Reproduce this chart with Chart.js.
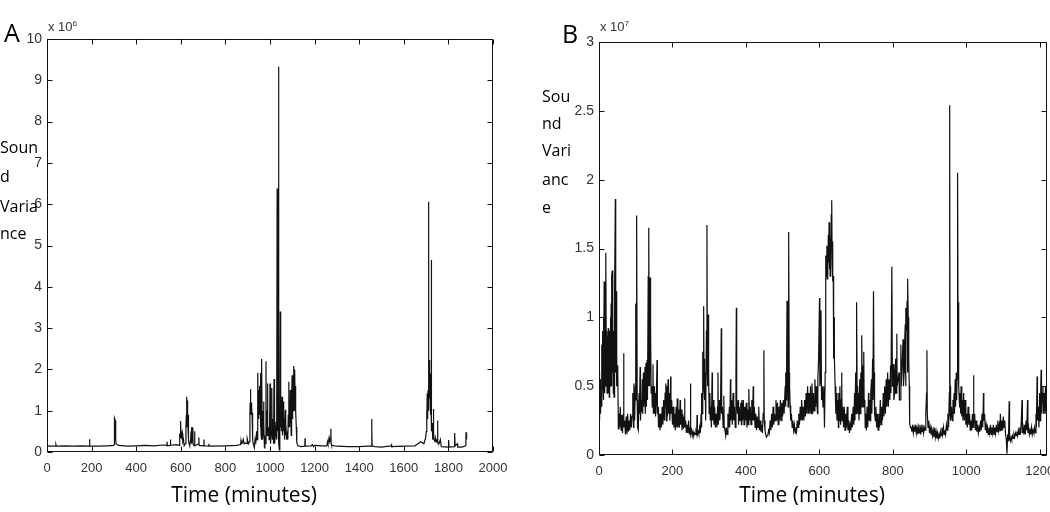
<!DOCTYPE html>
<html>
<head>
<meta charset="utf-8">
<script src="https://cdn.jsdelivr.net/npm/chart.js@4.4.1/dist/chart.umd.min.js"></script>
<style>
  html, body { margin: 0; padding: 0; background: #fff; overflow: hidden; }
  body { width: 1050px; height: 512px; position: relative; }
  canvas { position: absolute; top: 0; }
  #chartA { left: 0; }
  #chartB { left: 525px; }
  .txt { position: absolute; font-family: 'Open Sans', sans-serif; color: #000; white-space: nowrap; line-height: 1; }
  .panel { font-size: 25px; }
  .mult { font-family: 'Liberation Sans', sans-serif; font-size: 13px; color: #333; }
  .mult sup { font-size: 8px; }
  .ylab { font-size: 16px; }
  .xlab { font-size: 21px; transform: translateX(-50%); }
</style>
</head>
<body>
<canvas id="chartA" width="525" height="512"></canvas>
<canvas id="chartB" width="560" height="512"></canvas>

<div class="txt panel" style="left:4px; top:20px;">A</div>
<div class="txt mult" style="left:48px; top:20px;">x 10<sup>6</sup></div>
<div class="txt ylab" style="left:0px; top:139px;">Soun</div>
<div class="txt ylab" style="left:0px; top:168px;">d</div>
<div class="txt ylab" style="left:0px; top:198px;">Varia</div>
<div class="txt ylab" style="left:0px; top:225px;">nce</div>
<div class="txt xlab" style="left:244px; top:484px;">Time (minutes)</div>

<div class="txt panel" style="left:562px; top:21px;">B</div>
<div class="txt mult" style="left:600px; top:20px;">x 10<sup>7</sup></div>
<div class="txt ylab" style="left:542px; top:88px;">Sou</div>
<div class="txt ylab" style="left:542px; top:115px;">nd</div>
<div class="txt ylab" style="left:542px; top:142px;">Vari</div>
<div class="txt ylab" style="left:542px; top:171px;">anc</div>
<div class="txt ylab" style="left:542px; top:199px;">e</div>
<div class="txt xlab" style="left:812px; top:484px;">Time (minutes)</div>

<script>
// Panel A: [minute, sound variance in units of 10^6]
const seriesA = [
  [0,0.15],[20,0.14],[38,0.14],[40,0.18],[42,0.14],[80,0.15],[120,0.14],[150,0.15],[189,0.14],[191,0.31],
  [192,0.15],[230,0.14],[270,0.15],[298,0.16],[301,0.18],[302,0.25],[303,0.82],[307,0.75],[308,0.3],[310,0.2],
  [320,0.16],[360,0.14],[400,0.15],[440,0.16],[480,0.15],[520,0.17],[537,0.16],[538,0.25],[540,0.15],[552,0.16],
  [553,0.3],[555,0.16],[580,0.18],[594,0.16],[595,0.45],[597,0.35],[599,0.75],[601,0.4],[603,0.5],[605,0.35],
  [607,0.45],[609,0.25],[612,0.3],[615,0.15],[620,0.2],[623,0.6],[625,0.9],[626,0.6],[627,1.34],[628,0.9],
  [629,1.25],[630,0.8],[631,1.2],[632,0.9],[633,0.5],[634,0.9],[635,0.3],[637,0.2],[640,0.15],[644,0.3],
  [646,0.5],[647,0.2],[650,0.6],[651,0.25],[654,0.6],[655,0.2],[660,0.15],[662,0.5],[663,0.15],[680,0.2],
  [681,0.35],[682,0.16],[703,0.15],[704,0.3],[705,0.15],[725,0.14],[726,0.2],[727,0.14],[800,0.15],[850,0.16],
  [868,0.18],[870,0.28],[872,0.2],[876,0.22],[880,0.3],[884,0.2],[890,0.22],[897,0.2],[898,0.32],[903,0.2],
  [908,0.25],[910,0.9],[911,1.2],[912,0.9],[913,1.52],[914,1.1],[915,1.2],[916,0.95],[917,1.15],[918,0.9],
  [919,1.1],[920,0.85],[921,0.95],[923,0.3],[925,0.2],[930,0.1],[933,0.3],[936,0.2],[940,0.5],[942,0.3],
  [944,1.3],[945,0.8],[946,1.92],[947,0.9],[948,1.3],[949,0.8],[950,1.5],[951,1.0],[952,1.4],[953,1.1],
  [954,1.6],[955,0.9],[956,1.3],[957,1.91],[958,0.6],[959,1.0],[960,0.4],[961,0.9],[962,0.3],[964,2.25],
  [965,0.5],[966,1.0],[967,0.3],[969,0.5],[971,1.22],[972,0.4],[973,0.7],[975,0.1],[977,0.4],[980,0.2],
  [982,2.2],[983,0.5],[984,1.0],[985,0.5],[986,0.9],[987,0.4],[988,1.66],[989,0.5],[990,0.9],[991,0.4],
  [993,0.6],[996,0.3],[998,0.5],[1000,1.66],[1001,0.6],[1002,1.0],[1004,0.2],[1006,0.5],[1008,1.55],[1009,0.6],
  [1010,0.8],[1012,0.3],[1014,0.5],[1016,0.2],[1018,1.77],[1019,0.5],[1020,0.8],[1022,0.2],[1024,0.4],[1027,0.73],
  [1029,0.3],[1031,0.5],[1032,6.38],[1033,0.8],[1034,6.3],[1035,0.5],[1036,1.0],[1038,9.33],[1039,0.9],[1040,0.2],
  [1042,0.05],[1044,0.3],[1046,3.4],[1047,0.8],[1048,1.2],[1049,0.6],[1050,1.1],[1051,0.5],[1052,0.9],[1054,1.34],
  [1055,0.5],[1056,0.9],[1058,0.4],[1059,0.8],[1061,1.22],[1062,0.5],[1063,0.8],[1065,0.3],[1067,0.6],[1069,1.02],
  [1070,0.4],[1071,0.7],[1073,0.5],[1075,0.3],[1078,0.4],[1080,0.3],[1082,0.9],[1084,1.7],[1085,0.6],[1086,1.2],
  [1087,0.7],[1088,1.0],[1089,0.6],[1091,1.5],[1092,0.7],[1093,1.1],[1095,0.4],[1097,1.2],[1099,1.86],[1100,0.9],
  [1101,1.5],[1102,0.8],[1103,1.3],[1104,1.0],[1106,2.08],[1107,1.2],[1108,1.8],[1109,1.5],[1110,1.9],[1111,1.0],
  [1112,2.0],[1113,1.2],[1114,1.6],[1116,1.0],[1118,0.6],[1120,0.23],[1125,0.15],[1140,0.13],[1156,0.14],[1157,0.33],
  [1158,0.14],[1185,0.15],[1190,0.18],[1195,0.13],[1200,0.16],[1230,0.15],[1255,0.15],[1258,0.25],[1260,0.2],[1265,0.35],
  [1268,0.25],[1272,0.3],[1273,0.56],[1274,0.2],[1276,0.16],[1300,0.14],[1350,0.13],[1400,0.13],[1440,0.14],[1455,0.14],
  [1456,0.8],[1457,0.5],[1458,0.15],[1470,0.13],[1500,0.12],[1530,0.14],[1544,0.14],[1545,0.2],[1546,0.13],[1600,0.14],
  [1650,0.15],[1676,0.25],[1690,0.2],[1698,0.35],[1701,0.5],[1702,0.6],[1703,1.0],[1704,0.7],[1705,1.42],[1706,0.8],
  [1707,1.3],[1708,0.9],[1709,1.5],[1710,6.06],[1711,1.2],[1712,2.0],[1713,1.0],[1714,2.1],[1715,1.3],[1716,2.23],
  [1717,1.4],[1718,1.9],[1719,1.2],[1720,1.62],[1721,0.9],[1722,1.3],[1723,4.65],[1724,0.8],[1725,0.5],[1727,0.7],
  [1730,0.3],[1732,0.5],[1733,1.04],[1734,0.4],[1736,0.3],[1740,0.25],[1742,0.34],[1746,0.25],[1750,0.3],[1751,0.76],
  [1753,0.25],[1758,0.2],[1764,0.3],[1768,0.13],[1800,0.12],[1801,0.29],[1803,0.12],[1827,0.13],[1828,0.46],[1830,0.15],
  [1840,0.2],[1842,0.12],[1860,0.12],[1878,0.15],[1879,0.48],[1881,0.35],[1882,0.3]
];

// Panel B: [minute, sound variance in units of 10^7]
const seriesB = [
  [0,0.37],[1,0.6],[2,0.25],[3,0.55],[4,0.3],[6,0.45],[7,0.8],[8,0.35],[10,0.9],[11,0.5],
  [12,1.0],[13,0.4],[14,1.26],[15,0.45],[16,1.2],[17,0.5],[18,0.8],[19,1.47],[20,0.6],[21,0.9],
  [22,0.45],[23,0.86],[24,0.5],[25,0.92],[26,0.45],[27,0.8],[28,0.42],[29,0.9],[30,0.5],[31,1.0],
  [32,0.6],[33,1.1],[34,0.5],[35,1.3],[36,1.34],[37,0.6],[38,1.0],[39,0.45],[40,0.9],[41,0.42],
  [42,1.05],[43,1.2],[44.5,1.86],[45.5,0.6],[46.5,1.1],[47.5,0.5],[48,1.19],[49,0.7],[50,0.5],[51,0.65],
  [52.7,0.19],[54,0.3],[56,0.2],[58,0.35],[60,0.18],[62,0.29],[64,0.16],[66,0.3],[67,0.74],[68,0.2],
  [70,0.25],[72,0.15],[74,0.28],[76,0.15],[78,0.3],[80,0.17],[82,0.25],[84,0.18],[86,0.3],[88,0.2],
  [90,0.28],[92,0.45],[94,0.2],[95,0.52],[97,0.25],[99,0.5],[100,1.1],[101,0.4],[102.5,1.74],[104,0.4],
  [105,0.2],[107,0.18],[109,0.45],[110,0.3],[112,0.64],[113,0.25],[115,0.4],[116,0.31],[118,0.55],[119,0.3],
  [121,0.6],[122,0.35],[124,0.5],[125,0.64],[126,0.3],[128,0.67],[129,0.35],[131,0.69],[132,0.4],[134,1.3],
  [135,0.5],[136,1.65],[137,0.6],[138,0.5],[139,1.29],[140,0.6],[141,0.9],[142,0.45],[144,0.5],[145,0.35],
  [147,0.66],[148,0.3],[150,0.5],[151,0.3],[153,0.45],[154,0.28],[156,0.4],[158,0.69],[159,0.3],[161,0.35],
  [162,0.2],[164,0.3],[166,0.18],[168,0.3],[170,0.2],[172,0.35],[174,0.22],[176,0.4],[178,0.25],[180,0.45],
  [182,0.52],[183,0.25],[185,0.5],[186,0.28],[188,0.55],[189,0.3],[191,0.45],[193,0.25],[195,0.57],[196,0.3],
  [198,0.4],[200,0.22],[202,0.35],[204,0.2],[206,0.3],[208,0.18],[210,0.35],[212,0.2],[213,0.41],[215,0.2],
  [217,0.33],[219,0.2],[221,0.4],[222,0.22],[224,0.33],[226,0.18],[228,0.3],[230,0.19],[232,0.28],[233,0.41],
  [234,0.2],[236,0.25],[238,0.16],[240,0.22],[242,0.16],[244,0.25],[246,0.15],[248,0.2],[249,0.52],[250,0.15],
  [252,0.18],[254,0.14],[256,0.17],[258,0.14],[260,0.16],[262,0.15],[264,0.17],[266,0.15],[267,0.29],[268,0.15],
  [270,0.17],[272,0.15],[274,0.2],[276,0.16],[278,0.3],[279,0.2],[280,0.45],[281,0.3],[282,0.75],[283,0.4],
  [284,0.6],[285,1.08],[286,0.5],[287,0.7],[288,0.4],[289,0.6],[290,0.3],[291,0.25],[292.5,0.9],[294,1.67],
  [295,0.6],[296,0.5],[297,1.02],[298,0.5],[299,0.6],[300,0.3],[302,0.45],[303,0.25],[305,0.35],[306,0.2],
  [308,0.6],[309,0.25],[311,0.4],[313,0.22],[315,0.35],[317,0.2],[319,0.3],[321,0.2],[323,0.35],[324,0.6],
  [325,0.22],[327,0.4],[329,0.25],[331,0.35],[333,0.92],[334,0.3],[336,0.35],[338,0.2],[340,0.43],[341,0.2],
  [343,0.18],[345,0.14],[347,0.2],[349,0.15],[351,0.3],[353,0.2],[355,0.35],[356,0.2],[358,0.55],[359,0.25],
  [361,0.4],[363,0.22],[365,0.45],[367,0.25],[369,0.35],[371,0.2],[373,0.6],[374,1.07],[375,0.4],[377,0.3],
  [379,0.4],[380,0.22],[382,0.35],[384,0.25],[386,0.38],[388,0.22],[389,0.4],[391,0.25],[393,0.4],[395,0.22],
  [397,0.35],[399,0.25],[401,0.38],[403,0.2],[405,0.33],[407,0.22],[408,0.48],[410,0.25],[412,0.35],[414,0.22],
  [416,0.4],[418,0.25],[420,0.5],[421,0.25],[423,0.35],[425,0.2],[427,0.3],[429,0.18],[431,0.28],[433,0.2],
  [435,0.35],[437,0.18],[439,0.25],[441,0.17],[443,0.22],[445,0.16],[447,0.3],[449,0.76],[450,0.25],[452,0.18],
  [454,0.15],[456,0.13],[458,0.14],[460,0.15],[462,0.18],[464,0.16],[466,0.25],[468,0.18],[470,0.3],[472,0.2],
  [474,0.35],[476,0.22],[478,0.3],[480,0.25],[482,0.4],[484,0.25],[486,0.38],[488,0.22],[490,0.35],[492,0.25],
  [494,0.4],[496,0.25],[498,0.38],[500,0.28],[502,0.4],[504,0.3],[507,0.5],[508,0.35],[509,0.6],[510,0.4],
  [511,0.7],[512,1.12],[513,0.5],[514,0.6],[515,0.35],[516,0.45],[517,1.62],[518,0.6],[519,0.5],[520.5,0.36],
  [522,0.25],[524,0.3],[526,0.2],[528,0.25],[530,0.18],[532,0.22],[534,0.16],[536,0.2],[538,0.17],[540,0.25],
  [542,0.2],[544,0.3],[546,0.22],[548,0.35],[550,0.25],[552,0.4],[554,0.25],[556,0.35],[558,0.25],[560,0.4],
  [562,0.28],[564,0.45],[566,0.3],[568,0.5],[570,0.3],[572,0.45],[574,0.3],[576,0.5],[578,0.3],[580,0.52],
  [582,0.3],[584,0.45],[586,0.32],[588,0.55],[590,0.35],[591,0.5],[593,0.4],[595,0.3],[596,0.55],[598,0.7],
  [600.5,1.14],[601.5,0.5],[603,0.55],[604.5,1.05],[606,0.4],[608,0.5],[610,0.35],[612,0.5],[614,0.2],[616,0.6],
  [617,1.2],[618,1.45],[619,1.3],[620.5,1.52],[621.5,1.28],[622.5,1.5],[623.5,1.3],[624.5,1.6],[625.5,1.4],[626.5,1.69],
  [627.5,1.35],[628.5,1.6],[629.5,1.3],[630.5,1.58],[631.5,1.4],[632.5,1.75],[633.5,1.5],[634,1.85],[635,1.4],[636,1.55],
  [637,1.26],[638,1.3],[639,0.7],[640,1.0],[641,0.71],[643,0.5],[645,0.3],[646,0.45],[648,0.25],[650,0.4],
  [652,0.2],[653,0.45],[655,0.25],[656,0.5],[658,0.22],[660,0.4],[661,0.6],[662,0.25],[664,0.35],[666,0.2],
  [668,0.35],[670,0.18],[672,0.3],[674,0.2],[676,0.35],[678,0.18],[680,0.25],[682,0.16],[684,0.22],[686,0.18],
  [688,0.3],[690,0.2],[692,0.35],[694,0.22],[696,0.45],[697,0.25],[699,0.6],[700,0.3],[701,0.45],[702,1.11],
  [703,0.4],[704,0.5],[705,0.3],[707,0.45],[708,0.25],[710,0.55],[711,0.3],[713,0.6],[714,0.35],[715,0.5],
  [716,0.87],[717,0.4],[718,0.65],[719,0.35],[721,0.75],[722,0.4],[724,0.35],[725,0.2],[727,0.3],[728,0.18],
  [730,0.35],[732,0.2],[734,0.45],[735,0.25],[737,0.4],[738,0.25],[740,0.45],[742,0.55],[743,0.3],[745,0.7],
  [746,0.4],[747.5,1.19],[749,0.5],[750,0.6],[751,0.3],[752.5,0.25],[754,0.35],[756,0.2],[758,0.3],[760,0.18],
  [762,0.3],[764,0.2],[766,0.4],[768,0.22],[770,0.35],[772,0.25],[774,0.45],[776,0.28],[778,0.5],[780,0.3],
  [782,0.55],[784,0.35],[786,0.6],[788,0.35],[790,0.55],[792,0.4],[794,0.65],[795,0.45],[797.5,1.37],[799,0.5],
  [800,0.55],[802,0.66],[803,0.4],[805,0.45],[806,0.6],[808,0.7],[809,0.45],[811,0.88],[812,0.5],[814,0.5],
  [817,0.6],[818,0.4],[820,0.4],[822,0.8],[823,0.5],[825,0.5],[826,0.7],[828,0.84],[829,0.5],[831,0.6],
  [832,0.8],[834,0.95],[835,0.5],[836,1.07],[837,0.9],[839,1.12],[840,0.6],[841,1.28],[842,1.0],[843,0.8],
  [844,0.7],[845,0.5],[846,0.23],[848,0.2],[850,0.2],[852,0.17],[854,0.22],[856,0.16],[858,0.2],[860,0.17],
  [862,0.22],[864,0.16],[866,0.2],[868,0.15],[870,0.2],[872,0.16],[874,0.22],[876,0.15],[878,0.2],[880,0.17],
  [882,0.22],[884,0.16],[886,0.2],[888,0.18],[890,0.3],[892,0.45],[893,0.76],[894,0.3],[896,0.2],[898,0.25],
  [900,0.16],[902,0.2],[904,0.15],[906,0.19],[908,0.14],[910,0.18],[912,0.13],[914,0.2],[916,0.13],[918,0.17],
  [920,0.12],[922,0.16],[924,0.12],[926,0.15],[928,0.12],[930,0.17],[932,0.14],[934,0.2],[936,0.15],[938,0.2],
  [940,0.15],[942,0.18],[944,0.15],[946,0.22],[948,0.18],[950,0.3],[952,0.2],[954,0.45],[955,2.54],[956,0.3],
  [957,0.5],[958,0.25],[960,0.35],[962,0.25],[964,0.4],[965,0.3],[967,0.45],[968,0.3],[970,0.55],[971,0.35],
  [973,0.6],[974,0.4],[975,0.55],[976.5,2.05],[978,0.7],[979,1.11],[980,0.5],[982,0.35],[983,0.45],[985,0.3],
  [986,0.5],[988,0.28],[990,0.4],[991,0.25],[993,0.45],[995,0.25],[997,0.4],[999,0.22],[1001,0.3],[1003,0.2],
  [1005,0.35],[1007,0.22],[1009,0.3],[1011,0.18],[1013,0.25],[1015,0.18],[1017,0.3],[1019,0.2],[1020,0.58],[1021,0.25],
  [1023,0.3],[1025,0.18],[1027,0.25],[1029,0.17],[1031,0.22],[1033,0.16],[1035,0.2],[1037,0.17],[1039,0.25],[1041,0.18],
  [1043,0.3],[1045,0.2],[1047,0.45],[1048,0.25],[1050,0.3],[1052,0.18],[1054,0.22],[1056,0.16],[1058,0.2],[1060,0.15],
  [1062,0.2],[1064,0.16],[1066,0.22],[1068,0.15],[1070,0.2],[1072,0.16],[1074,0.22],[1076,0.15],[1078,0.2],[1080,0.16],
  [1082,0.22],[1084,0.17],[1086,0.25],[1088,0.18],[1090,0.22],[1092,0.17],[1093,0.3],[1095,0.18],[1097,0.25],[1099,0.18],
  [1101,0.28],[1103,0.2],[1105,0.25],[1107,0.15],[1109,0.12],[1111,0.01],[1113,0.15],[1115,0.1],[1117,0.39],[1118,0.12],
  [1120,0.1],[1122,0.13],[1124,0.11],[1126,0.14],[1128,0.12],[1130,0.15],[1132,0.13],[1134,0.16],[1136,0.14],[1138,0.17],
  [1140,0.14],[1142,0.18],[1144,0.15],[1146,0.2],[1148,0.15],[1150,0.25],[1152,0.4],[1153,0.16],[1155,0.2],[1157,0.15],
  [1159,0.22],[1161,0.15],[1163,0.25],[1165,0.18],[1167,0.4],[1168,0.16],[1170,0.2],[1172,0.15],[1174,0.18],[1176,0.15],
  [1178,0.2],[1180,0.15],[1182,0.18],[1184,0.16],[1186,0.2],[1188,0.16],[1190,0.3],[1191,0.2],[1193,0.57],[1194,0.25],
  [1196,0.35],[1198,0.2],[1200,0.45],[1201,0.25],[1203,0.5],[1204,0.62],[1205,0.3],[1207,0.45],[1209,0.5],[1210,0.3],
  [1212,0.45],[1214,0.3],[1216,0.5],[1218,0.3],[1220,0.4]
];

// axis ranges and tick positions
const xRangeA = [0, 2000], yRangeA = [0, 10];
const xRangeB = [0, 1220], yRangeB = [0, 3];
const xTicksA = [0, 200, 400, 600, 800, 1000, 1200, 1400, 1600, 1800, 2000];
const xTicksB = [0, 200, 400, 600, 800, 1000, 1200];

// MATLAB-like box with inward ticks on all four sides
const frameBox = {
  id: 'frameBox',
  afterDraw(chart) {
    const { ctx, chartArea: a, scales: { x, y } } = chart;
    const L = Math.round(a.left) + 0.5, R = Math.round(a.right) - 0.5;
    const T = Math.round(a.top) + 0.5, B = Math.round(a.bottom) - 0.5;
    const len = 5;
    ctx.save();
    ctx.strokeStyle = '#111';
    ctx.lineWidth = 1;
    ctx.strokeRect(L, T, R - L, B - T);
    ctx.beginPath();
    x.ticks.forEach(t => {
      const px = Math.round(x.getPixelForValue(t.value)) + 0.5;
      ctx.moveTo(px, B); ctx.lineTo(px, B - len);
      ctx.moveTo(px, T); ctx.lineTo(px, T + len);
    });
    y.ticks.forEach(t => {
      const py = Math.round(y.getPixelForValue(t.value)) + 0.5;
      ctx.moveTo(L, py); ctx.lineTo(L + len, py);
      ctx.moveTo(R, py); ctx.lineTo(R - len, py);
    });
    ctx.stroke();
    ctx.restore();
  }
};

function makePanel(id, series, xRange, xTicks, yRange, yStep, yWidth, xHeight, padding) {
  const ctx = document.getElementById(id).getContext('2d');
  return new Chart(ctx, {
    type: 'line',
    data: {
      datasets: [{
        data: series.map(p => ({ x: p[0], y: p[1] })),
        borderColor: '#111',
        borderWidth: 1.2,
        pointRadius: 0,
        tension: 0,
        fill: false
      }]
    },
    options: {
      responsive: false,
      animation: false,
      devicePixelRatio: 1,
      layout: { padding: padding },
      plugins: { legend: { display: false }, tooltip: { enabled: false } },
      scales: {
        x: {
          type: 'linear',
          min: xRange[0],
          max: xRange[1],
          grid: { display: false, drawTicks: false },
          border: { display: false },
          afterFit: s => { s.height = xHeight; },
          afterBuildTicks: s => { s.ticks = xTicks.map(v => ({ value: v })); },
          ticks: {
            padding: 9,
            maxRotation: 0,
            autoSkip: false,
            color: '#333',
            font: { family: 'Liberation Sans', size: 13 },
            callback: v => String(v)
          }
        },
        y: {
          min: yRange[0],
          max: yRange[1],
          grid: { display: false, drawTicks: false },
          border: { display: false },
          afterFit: s => { s.width = yWidth; },
          ticks: {
            stepSize: yStep,
            padding: 5,
            color: '#333',
            font: { family: 'Liberation Sans', size: 14 },
            callback: v => String(v)
          }
        }
      }
    },
    plugins: [frameBox]
  });
}

makePanel('chartA', seriesA, xRangeA, xTicksA, yRangeA, 1, 47, 60, { left: 0, top: 39, right: 32, bottom: 0 });
makePanel('chartB', seriesB, xRangeB, xTicksB, yRangeB, 0.5, 74, 57, { left: 0, top: 42, right: 38, bottom: 0 });
</script>
</body>
</html>
